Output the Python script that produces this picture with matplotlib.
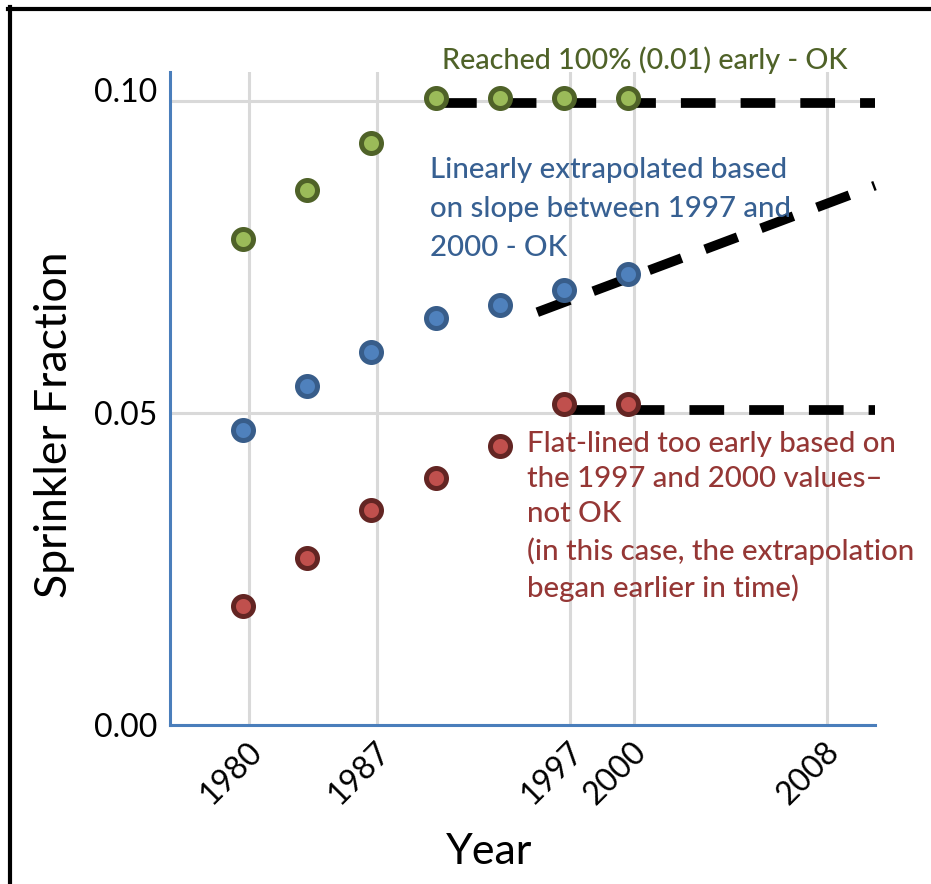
import matplotlib
matplotlib.use("Agg")
import matplotlib.pyplot as plt
import matplotlib.transforms as mtransforms
from matplotlib.lines import Line2D

plt.rcParams['font.family'] = ['Lato', 'DejaVu Sans']
plt.rcParams['lines.scale_dashes'] = False

# x axis is a category-like axis: evenly spaced slots, only some get a year label
slots = [0, 1, 2, 3, 4, 5, 6]
tick_slots = [0, 2, 5, 6, 9]
tick_years = ["1980", "1987", "1997", "2000", "2008"]

green_vals = [0.0770, 0.0848, 0.0923, 0.0995, 0.0995, 0.0995, 0.0995]
blue_vals = [0.0463, 0.0534, 0.0589, 0.0643, 0.0664, 0.0688, 0.0714]
red_vals = [0.0181, 0.0258, 0.0335, 0.0386, 0.0438, 0.0505, 0.0505]

# dashed extrapolations (start, end)
green_ext_x = [3, 9.75]
green_ext_y = [0.0996, 0.0996]
blue_ext_x = [4.49, 9.75]
blue_ext_y = [0.0661, 0.0864]
red_ext_x = [5, 9.75]
red_ext_y = [0.0505, 0.0505]

fig = plt.figure(figsize=(9.31, 8.84), dpi=100)
ax = fig.add_axes([170/931, 1 - 724.7/884, 705/931, 652.7/884])

# extrapolation lines (black dashes)
for xs, ys in [(green_ext_x, green_ext_y), (blue_ext_x, blue_ext_y), (red_ext_x, red_ext_y)]:
    ax.plot(xs, ys, color='black', lw=7, dashes=(25, 18), zorder=3, clip_on=False)

# markers sit a few pixels up-left of the grid in the original
shift = mtransforms.offset_copy(ax.transData, fig=fig, x=-6, y=5.5, units='dots')
ax.plot(slots, green_vals, 'o', ms=14.4, mew=3.6, mfc='#9BBB59', mec='#4F6228',
        transform=shift, zorder=4, clip_on=False)
ax.plot(slots, blue_vals, 'o', ms=14.4, mew=3.6, mfc='#4F81BD', mec='#385D8A',
        transform=shift, zorder=4, clip_on=False)
ax.plot(slots, red_vals, 'o', ms=14.4, mew=3.6, mfc='#C0504D', mec='#632523',
        transform=shift, zorder=4, clip_on=False)

ax.set_xlim(-1.23, 9.75)
ax.set_ylim(0, 0.1046)
ax.set_xticks(tick_slots, tick_years, rotation=45, ha='right', va='center',
              rotation_mode='anchor')
ax.set_yticks([0, 0.05, 0.10], ["0.00", "0.05", "0.10"])
ax.tick_params(length=0, labelsize=23)
ax.tick_params(axis='y', pad=9)
ax.tick_params(axis='x', pad=16)
lab_shift = mtransforms.ScaledTranslation(8/100, 0, fig.dpi_scale_trans)
for lab in ax.get_xticklabels():
    lab.set_transform(lab.get_transform() + lab_shift)
# the top y label sits a bit above its gridline in the original
top_lab = ax.get_yticklabels()[-1]
top_lab.set_transform(top_lab.get_transform() + mtransforms.ScaledTranslation(0, 11/100, fig.dpi_scale_trans))

ax.grid(True, color='#D9D9D9', lw=2.2)
ax.set_axisbelow(True)
for s in ['top', 'right']:
    ax.spines[s].set_visible(False)
for s in ['left', 'bottom']:
    ax.spines[s].set_color('#4A7EBB')
    ax.spines[s].set_linewidth(2.2)

fig.text(489/931, 1 - 864/884, "Year", ha='center', va='baseline', fontsize=31)
fig.text(55/931, 1 - 425/884, "Sprinkler Fraction", ha='center', va='center',
         rotation=90, fontsize=32)

# annotations (multi-line baseline = baseline of the last line)
fig.text(442/931, 1 - 69/884, "Reached 100% (0.01) early - OK", color='#4F6228',
         fontsize=20.7, va='baseline', fontweight='medium')
fig.text(430/931, 1 - 256/884, "Linearly extrapolated based\non slope between 1997 and\n2000 - OK",
         color='#376092', fontsize=21.2, va='baseline', linespacing=1.63, fontweight='medium')
fig.text(527/931, 1 - 597/884,
         "Flat-lined too early based on\nthe 1997 and 2000 values\u2013\nnot OK\n"
         "(in this case, the extrapolation\nbegan earlier in time)",
         color='#953735', fontsize=21.2, va='baseline', linespacing=1.43, fontweight='medium')

# black frame on top and left edge
fig.add_artist(Line2D([8/931, 1], [1 - 8.5/884, 1 - 8.5/884], color='black', lw=3))
fig.add_artist(Line2D([10/931, 10/931], [0, 1 - 7/884], color='black', lw=3))

fig.savefig("out.png", dpi=100)
